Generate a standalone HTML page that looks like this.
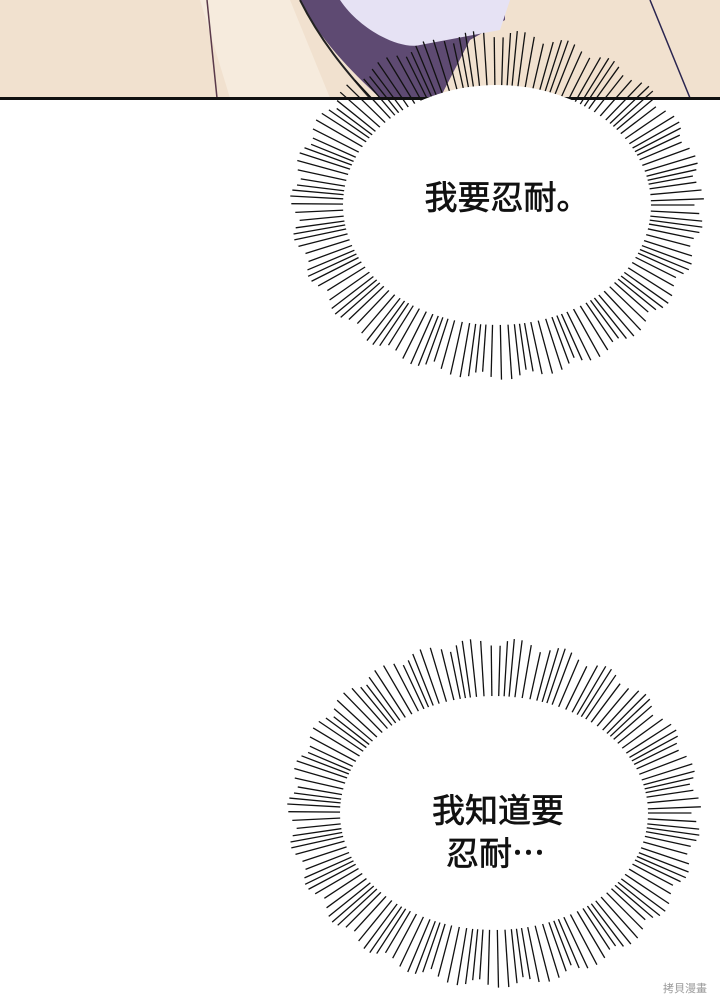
<!DOCTYPE html>
<html><head><meta charset="utf-8"><style>
html,body{margin:0;padding:0;background:#fff;}
svg{display:block;}
text{font-family:"Noto Sans CJK SC",sans-serif;font-weight:normal;fill:#111;stroke:#111;stroke-width:0.7;}
</style></head><body>
<svg id="s" width="720" height="999" viewBox="0 0 720 999" xmlns="http://www.w3.org/2000/svg">
<rect x="0" y="0" width="720" height="98" fill="#f1e1cf"/>
<path d="M200 0 L230 98 L330 98 L290 0Z" fill="#f6ebdd"/>
<line x1="207" y1="0" x2="217" y2="98" stroke="#5a3a4a" stroke-width="1.5"/>
<path d="M300 0 C320 40 350 70 380 98 L440 98 L470 40 L505 20 L505 0Z" fill="#5e4a72"/>
<path d="M340 0 C360 30 400 50 420 45 L500 30 L510 0Z" fill="#e6e2f4"/>
<path d="M300 0 C320 40 345 70 370 98" fill="none" stroke="#222" stroke-width="2"/>
<line x1="650" y1="0" x2="690" y2="98" stroke="#2a2550" stroke-width="1.5"/>
<rect x="0" y="98" width="720" height="623" fill="#fff"/>
<line x1="0" y1="98.5" x2="720" y2="98.5" stroke="#111" stroke-width="3"/>
<g id="b1"></g><g id="b2"></g>
<ellipse cx="497" cy="205" rx="154" ry="120" fill="#fff"/>
<ellipse cx="494" cy="813" rx="154" ry="117" fill="#fff"/>
<text x="507" y="209" font-size="33" text-anchor="middle">我要忍耐。</text>
<text x="498" y="822" font-size="33" text-anchor="middle">我知道要</text>
<text x="446" y="865" font-size="33">忍耐⋯</text>
<text x="685" y="992" font-size="11" text-anchor="middle" style="fill:#999;stroke:none">拷貝漫畫</text>
</svg>
<script>
function burst(id,cx,cy,rx,ry,ox,oy,n){
 var g=document.getElementById(id),h='';
 for(var i=0;i<n;i++){
  var a=i/n*Math.PI*2+ (Math.sin(i*7.3)*0.01);
  var f=0.82+0.18*Math.abs(Math.sin(i*3.7));
  var c=Math.cos(a),s=Math.sin(a);
  var x1=cx+c*(rx-4),y1=cy+s*(ry-4);
  var x2=cx+c*(rx+(ox-rx)*f),y2=cy+s*(ry+(oy-ry)*f);
  h+='<line x1="'+x1+'" y1="'+y1+'" x2="'+x2+'" y2="'+y2+'" stroke="#111" stroke-width="1.3"/>';
 }
 g.innerHTML=h;
}
burst('b1',497,205,154,120,207,175,150);
burst('b2',494,813,154,117,207,175,150);
</script>
</body></html>
